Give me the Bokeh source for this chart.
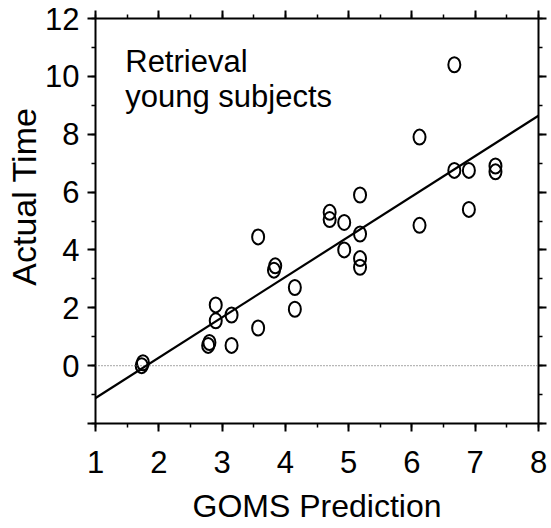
import numpy as np
from bokeh.plotting import figure
from bokeh.models import (Range1d, LinearAxis, SingleIntervalTicker, Span, Slope, Label, Title)
from bokeh.embed import file_html
from bokeh.resources import INLINE

# GOMS predicted vs. actual retrieval times (young subjects)
goms_prediction = [1.73, 1.75, 2.78, 2.80, 2.90, 2.90, 3.15, 3.15, 3.57, 3.57,
                   3.82, 3.84, 4.15, 4.15, 4.70, 4.70, 4.93, 4.93, 5.18, 5.18,
                   5.18, 5.18, 6.12, 6.12, 6.67, 6.67, 6.90, 6.90, 7.32, 7.32]
actual_time = [0.00, 0.10, 0.70, 0.80, 2.10, 1.55, 1.75, 0.70, 4.45, 1.30,
               3.30, 3.45, 2.70, 1.95, 5.30, 5.05, 4.95, 4.00, 5.90, 4.55,
               3.70, 3.40, 7.90, 4.85, 10.40, 6.75, 6.75, 5.40, 6.90, 6.70]

x_ticks = [1, 2, 3, 4, 5, 6, 7, 8]
y_ticks = [0, 2, 4, 6, 8, 10, 12]
y_floor = -2

FONT = "Liberation Sans"
INK = "black"

# least-squares regression line through the points
slope, intercept = np.polyfit(goms_prediction, actual_time, 1)

p = figure(width=551, height=528, output_backend="svg", toolbar_location=None,
           x_range=Range1d(x_ticks[0], x_ticks[-1]), y_range=Range1d(y_floor, y_ticks[-1]),
           x_axis_location=None, y_axis_location=None,
           min_border_left=95, min_border_right=13, min_border_top=18, min_border_bottom=105)
p.grid.visible = False
p.outline_line_color = None
p.background_fill_color = "white"
p.border_fill_color = "white"


def style_axis(ax, labels=True):
    ax.axis_line_width = 2
    ax.axis_line_color = INK
    ax.major_tick_line_width = 2
    ax.minor_tick_line_width = 1.5
    ax.major_tick_line_color = INK
    ax.minor_tick_line_color = INK
    ax.major_tick_out = 8
    ax.major_tick_in = 0
    ax.minor_tick_out = 4
    ax.minor_tick_in = 0
    ax.major_label_text_font = FONT
    ax.major_label_text_font_size = "31px"
    ax.major_label_text_color = INK if labels else None
    ax.axis_label_text_font = FONT
    ax.axis_label_text_font_size = "32px"
    ax.axis_label_text_font_style = "normal"
    ax.axis_label_text_color = INK


xb = LinearAxis(ticker=SingleIntervalTicker(interval=1, num_minor_ticks=2),
                axis_label="GOMS Prediction")
style_axis(xb)
xb.major_label_standoff = 19
xb.axis_label_standoff = 12
p.add_layout(xb, "below")

xt = LinearAxis(ticker=SingleIntervalTicker(interval=1, num_minor_ticks=2))
style_axis(xt, labels=False)
p.add_layout(xt, "above")

yl = LinearAxis(ticker=SingleIntervalTicker(interval=2, num_minor_ticks=2))
style_axis(yl)
yl.major_label_standoff = 8
yl.major_label_overrides = {y_floor: ""}
p.add_layout(yl, "left")

yr = LinearAxis(ticker=SingleIntervalTicker(interval=2, num_minor_ticks=2))
style_axis(yr, labels=False)
p.add_layout(yr, "right")

# vertical axis title, hung from the top of the panel
p.add_layout(Title(text="Actual Time", align="right", offset=89, standoff=0,
                   text_font=FONT, text_font_size="34px", text_font_style="normal",
                   text_color=INK), "left")

# dotted zero reference
p.add_layout(Span(location=0, dimension="width", line_color="#6e6e6e",
                  line_width=1.2, line_dash="1 2"))

# fitted line
p.add_layout(Slope(gradient=slope, y_intercept=intercept, line_color=INK, line_width=2.2))

# open ellipse markers
p.ellipse(goms_prediction, actual_time, width=12, height=15,
          width_units="screen", height_units="screen",
          fill_color=None, line_color=INK, line_width=2)

for txt, yy in (("Retrieval", 10.5), ("young subjects", 9.3)):
    p.add_layout(Label(x=1.47, y=yy, text=txt, text_font=FONT, text_font_size="31px",
                       text_color=INK, text_baseline="alphabetic"))

open("out.html", "w").write(file_html(p, INLINE))
